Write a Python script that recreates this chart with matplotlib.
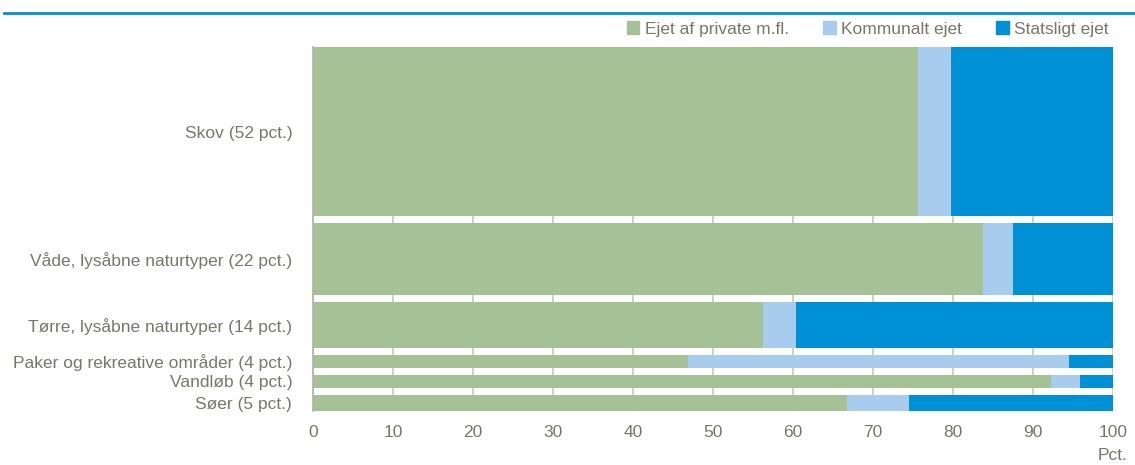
import matplotlib.pyplot as plt
from matplotlib.lines import Line2D
from matplotlib.patches import Patch

categories = ['Skov (52 pct.)', 'Våde, lysåbne naturtyper (22 pct.)',
              'Tørre, lysåbne naturtyper (14 pct.)', 'Paker og rekreative områder (4 pct.)',
              'Vandløb (4 pct.)', 'Søer (5 pct.)']
shares = [52, 22, 14, 4, 4, 5]
private = [75.6, 83.7, 56.2, 46.9, 92.2, 66.8]
kommunal = [4.2, 3.8, 4.2, 47.6, 3.7, 7.7]
statslig = [20.2, 12.5, 39.6, 5.5, 4.1, 25.5]
series_names = ['Ejet af private m.fl.', 'Kommunalt ejet', 'Statsligt ejet']
colors = ['#A5C296', '#A8CCEE', '#0090D5']
text_col = '#77776B'

plt.rcParams['font.family'] = ['Liberation Sans', 'DejaVu Sans']

fig = plt.figure(figsize=(11.35, 4.65), dpi=100)
ax = fig.add_axes([313 / 1135, 1 - 411 / 465, 800 / 1135, 364 / 465])

gap = 2.15
centers = []
pos = 0
for s in shares:
    centers.append(pos + s / 2)
    pos += s + gap
total = pos - gap

left = [0] * len(shares)
for vals, col in zip([private, kommunal, statslig], colors):
    ax.barh(centers, vals, height=shares, left=left, color=col, zorder=2)
    left = [a + b for a, b in zip(left, vals)]

ax.set_xlim(0, 100)
ax.set_ylim(total, 0)
ax.set_xticks(range(0, 101, 10))
ax.xaxis.grid(True, color='#C8C8C0', lw=1.2, zorder=0)
ax.set_yticks(centers)
ax.set_yticklabels(categories)
ax.tick_params(axis='both', length=0, labelsize=12.5, labelcolor=text_col)
ax.tick_params(axis='x', pad=10)
ax.tick_params(axis='y', pad=15)
for side in ['top', 'right', 'bottom']:
    ax.spines[side].set_visible(False)
ax.spines['left'].set_color('#B0B0A8')
ax.spines['left'].set_linewidth(1.2)

fig.text(1113 / 1135, 1 - 455 / 465, 'Pct.', ha='center', va='center', fontsize=12.5, color=text_col)

# blue rule under the (cut-off) title
fig.add_artist(Line2D([4 / 1135, 1], [1 - 13 / 465] * 2, color='#0090D5', lw=2))

handles = [Patch(color=c) for c in colors]
fig.legend(handles, series_names, loc='center right', bbox_to_anchor=(1117 / 1135, 1 - 29 / 465),
           ncol=3, frameon=False, fontsize=12.5, labelcolor=text_col, handlelength=0.7,
           handleheight=0.7, handletextpad=0.3, columnspacing=2.0, borderpad=0)

fig.savefig('out.png', dpi=100)
